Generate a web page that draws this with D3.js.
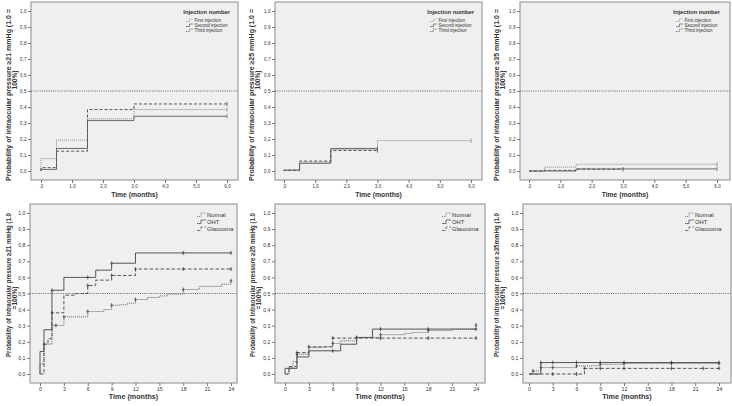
<!DOCTYPE html>
<html><head><meta charset="utf-8">
<script src="https://cdn.jsdelivr.net/npm/d3@7"></script>
<style>
body{margin:0;background:#fff}
svg{display:block}
text{font-family:"Liberation Sans",Arial,sans-serif;fill:#333}
</style>
</head><body><svg id="c" width="732" height="406"></svg>
<script>
// ---------- tick values / labels ----------
const yTickValues = [0,0.1,0.2,0.3,0.4,0.5,0.6,0.7,0.8,0.9,1.0];
const yTickLabels = ["0,0","0,1","0,2","0,3","0,4","0,5","0,6","0,7","0,8","0,9","1,0"];
const topXTickValues = [0,1,2,3,4,5,6];
const topXTickLabels = [",0","1,0","2,0","3,0","4,0","5,0","6,0"];
const botXTickValues = [0,3,6,9,12,15,18,21,24];
const botXTickLabels = ["0","3","6","9","12","15","18","21","24"];

// ---------- categories ----------
const injectionNames = ["First injection","Second injection","Third injection"];
const groupNames = ["Normal","OHT","Glaucoma"];

// ---------- top row: by injection number (months) ----------
const injTimes = [0, 0.5, 1.5, 3, 6];
const inj21First  = [0.077, 0.193, 0.326, 0.384, 0.384];
const inj21Second = [0.010, 0.141, 0.315, 0.342, 0.342];
const inj21Third  = [0.021, 0.124, 0.384, 0.419, 0.419];

const inj25FirstTimes = [0, 0.5, 1.5, 3, 6];
const inj25First  = [0.005, 0.055, 0.135, 0.19, 0.19];
const inj25OtherTimes = [0, 0.5, 1.5, 3];
const inj25Second = [0.005, 0.048, 0.141, 0.141];
const inj25Third  = [0.005, 0.062, 0.128, 0.128];

const inj35FirstTimes = [0, 0.5, 1.5, 6];
const inj35First  = [0, 0.024, 0.042, 0.042];
const inj35SecondTimes = [0, 1.5, 6];
const inj35Second = [0, 0.013, 0.013];
const inj35ThirdTimes = [0, 0.5, 1.5, 3];
const inj35Third  = [0, 0.004, 0.011, 0.011];

// ---------- bottom row: by group ----------
const normal21Times = [0, 0.5, 1.5, 3, 6, 8, 9, 10, 11, 12, 13.5, 15, 16, 18, 20, 22.8, 24];
const normal21 = [0.0625, 0.185, 0.302, 0.355, 0.388, 0.40, 0.427, 0.43, 0.44, 0.4625, 0.475, 0.485, 0.496, 0.525, 0.544, 0.558, 0.579];
const normal21Censor = [0.5, 2, 3, 6, 9, 12, 18, 24];
const oht21Times = [0, 0.5, 1.5, 3, 7, 9, 12, 24];
const oht21 = [0.14, 0.275, 0.52, 0.60, 0.645, 0.688, 0.752, 0.752];
const oht21Censor = [1.5, 6, 9, 18, 24];
const glaucoma21Times = [0, 0.5, 1, 1.5, 3, 4.5, 6, 7, 9, 12, 24];
const glaucoma21 = [0, 0.185, 0.219, 0.38, 0.49, 0.50, 0.55, 0.583, 0.612, 0.652, 0.652];
const glaucoma21Censor = [1.5, 6, 9, 12, 18, 24];

const normal25Times = [0, 0.5, 1, 1.5, 3, 5, 6, 7, 9, 12, 15, 16, 18, 21, 24];
const normal25 = [0, 0.04, 0.077, 0.123, 0.165, 0.17, 0.19, 0.206, 0.227, 0.244, 0.252, 0.258, 0.27, 0.279, 0.304];
const normal25Censor = [1.5, 6, 9, 12, 18, 24];
const oht25Times = [0, 1.5, 3, 7, 9, 11, 24];
const oht25 = [0.035, 0.106, 0.144, 0.185, 0.227, 0.279, 0.279];
const oht25Censor = [6, 12, 18, 24];
const glaucoma25Times = [0, 0.5, 1.5, 3, 6, 24];
const glaucoma25 = [0, 0.046, 0.133, 0.169, 0.223, 0.223];
const glaucoma25Censor = [1.5, 3, 6, 9, 12, 18, 24];

const normal35Times = [0, 0.5, 1.5, 6, 8, 9, 12, 24];
const normal35 = [0, 0.019, 0.04, 0.05, 0.052, 0.06, 0.065, 0.065];
const normal35Censor = [0.5, 1.5, 3, 6, 9, 12, 18, 24];
const oht35Times = [0, 1.5, 24];
const oht35 = [0, 0.071, 0.071];
const oht35Censor = [1.5, 3, 6, 9, 12, 18, 24];
const glaucoma35Times = [0, 7, 24];
const glaucoma35 = [0, 0.035, 0.035];
const glaucoma35Censor = [3, 6, 7, 9, 12, 18, 22, 24];

// ---------- styles ----------
const styleOf = {
  "First injection": {dash:"1,1", color:"#8a8a8a", w:1},
  "Second injection": {dash:null, color:"#6a6a6a", w:1},
  "Third injection": {dash:"3,2", color:"#555", w:1},
  "Normal": {dash:"1,1", color:"#666", w:1},
  "OHT": {dash:null, color:"#555", w:1},
  "Glaucoma": {dash:"3.5,2", color:"#555", w:1}
};

function S(name, times, values, censor){ return {name, times, values, censor: censor || [times[times.length-1]]}; }

const panels = [
  {row:"top", box:[31,2,238,180], xr:[41,227], yr:[171,11], xmax:6, tx:[9,15],
   title:["Probability of intraocular pressure \u226521 mmHg (1.0 =","100%)"],
   series:[S(injectionNames[0],injTimes,inj21First),S(injectionNames[1],injTimes,inj21Second),S(injectionNames[2],injTimes,inj21Third)]},
  {row:"top", box:[275,2,482,180], xr:[284,471], yr:[171,11], xmax:6, tx:[252,258],
   title:["Probability of intraocular pressure \u226525 mmHg (1.0 =","100%)"],
   series:[S(injectionNames[0],inj25FirstTimes,inj25First),S(injectionNames[1],inj25OtherTimes,inj25Second),S(injectionNames[2],inj25OtherTimes,inj25Third)]},
  {row:"top", box:[520,2,730,180], xr:[529,717], yr:[171,11], xmax:6, tx:[497,503],
   title:["Probability of intraocular pressure \u226535 mmHg (1.0 =","100%)"],
   series:[S(injectionNames[0],inj35FirstTimes,inj35First),S(injectionNames[1],inj35SecondTimes,inj35Second),S(injectionNames[2],inj35ThirdTimes,inj35Third)]},
  {row:"bot", box:[30,204,237,383], xr:[40,231], yr:[374,213], xmax:24, tx:[9,15],
   title:["Probability of intraocular pressure \u226521 mmHg (1.0","=100%)"],
   series:[S(groupNames[0],normal21Times,normal21,normal21Censor),S(groupNames[1],oht21Times,oht21,oht21Censor),S(groupNames[2],glaucoma21Times,glaucoma21,glaucoma21Censor)]},
  {row:"bot", box:[275,204,485,383], xr:[285,476], yr:[374,213], xmax:24, tx:[253,259],
   title:["Probability of intraocular pressure \u226525 mmHg (1.0","=100%)"],
   series:[S(groupNames[0],normal25Times,normal25,normal25Censor),S(groupNames[1],oht25Times,oht25,oht25Censor),S(groupNames[2],glaucoma25Times,glaucoma25,glaucoma25Censor)]},
  {row:"bot", box:[523,204,731,383], xr:[529,719], yr:[374,213], xmax:24, tx:[497,503],
   title:["Probability of intraocular pressure \u226535mmHg (1.0","=100%)"],
   series:[S(groupNames[0],normal35Times,normal35,normal35Censor),S(groupNames[1],oht35Times,oht35,oht35Censor),S(groupNames[2],glaucoma35Times,glaucoma35,glaucoma35Censor)]}
];

const svg = d3.select("#c");

panels.forEach(p => {
  const top = p.row === "top";
  const g = svg.append("g");
  const x = d3.scaleLinear().domain([0, p.xmax]).range(p.xr);
  const y = d3.scaleLinear().domain([0, 1]).range(p.yr);
  const [bx0, by0, bx1, by1] = p.box;

  g.append("rect").attr("x", bx0).attr("y", by0).attr("width", bx1 - bx0).attr("height", by1 - by0)
    .attr("fill", "#efefef").attr("stroke", "#8c8c8c").attr("stroke-width", 1);

  // axes
  const tickFs = top ? 4.6 : 5.2;
  const yAx = g.append("g").attr("transform", `translate(${bx0},0)`)
    .call(d3.axisLeft(y).tickValues(yTickValues).tickFormat((d, i) => yTickLabels[i]).tickSize(3).tickPadding(1.5));
  const xVals = top ? topXTickValues : botXTickValues;
  const xLabs = top ? topXTickLabels : botXTickLabels;
  const xAx = g.append("g").attr("transform", `translate(0,${by1})`)
    .call(d3.axisBottom(x).tickValues(xVals).tickFormat((d, i) => xLabs[i]).tickSize(3).tickPadding(1.5));
  [yAx, xAx].forEach(a => {
    a.select(".domain").remove();
    a.selectAll("line").attr("stroke", "#777");
    a.selectAll("text").style("font-size", tickFs + "px").attr("fill", "#444");
  });

  // reference line at 0.5
  g.append("line").attr("x1", bx0).attr("x2", bx1).attr("y1", y(0.5)).attr("y2", y(0.5))
    .attr("stroke", "#555").attr("stroke-dasharray", "1,1.2").attr("stroke-width", 0.9);

  // series
  const line = d3.line().x(d => x(d[0])).y(d => y(d[1])).curve(d3.curveStepAfter);
  p.series.forEach(s => {
    const st = styleOf[s.name];
    const pts = [[0, 0]].concat(s.times.map((t, i) => [t, s.values[i]]));
    g.append("path").attr("d", line(pts)).attr("fill", "none")
      .attr("stroke", st.color).attr("stroke-width", st.w)
      .attr("stroke-dasharray", st.dash);
    const valAt = t => { let v = 0; s.times.forEach((tt, i) => { if (tt <= t + 1e-9) v = s.values[i]; }); return v; };
    s.censor.forEach(t => {
      const cx = x(t), cy = y(valAt(t));
      const h = top ? 2.2 : 2;
      g.append("path").attr("d", `M${cx},${cy - h}V${cy + h}` + (top ? "" : `M${cx - 1.3},${cy}H${cx + 1.3}`))
        .attr("stroke", top ? st.color : "#444").attr("stroke-width", 0.8).attr("fill", "none");
    });
  });

  // legend
  if (top) {
    const lx = p.xr[1] + 3;
    g.append("text").attr("x", lx).attr("y", 14).attr("text-anchor", "end")
      .style("font-size", "5.8px").style("font-weight", "600").attr("fill", "#333").text("Injection number");
    p.series.forEach((s, i) => {
      const st = styleOf[s.name];
      const yy = 20.5 + i * 5;
      const sx = lx - 44;
      g.append("path").attr("d", `M${sx},${yy + 1}H${sx + 3.5}V${yy - 1.5}H${sx + 7}`)
        .attr("fill", "none").attr("stroke", st.color).attr("stroke-width", 0.8).attr("stroke-dasharray", st.dash ? "1,0.8" : null);
      g.append("text").attr("x", sx + 8.5).attr("y", yy + 1.5)
        .style("font-size", "4.5px").attr("fill", "#333").text(s.name);
    });
  } else {
    const tx0 = p.xr[1] - 24;
    p.series.forEach((s, i) => {
      const st = styleOf[s.name];
      const yy = 215 + i * 7;
      const sx = tx0 - 10;
      g.append("path").attr("d", `M${sx},${yy + 1.5}H${sx + 4}V${yy - 2}H${sx + 9}`)
        .attr("fill", "none").attr("stroke", st.color).attr("stroke-width", 0.8).attr("stroke-dasharray", st.dash);
      g.append("text").attr("x", tx0).attr("y", yy + 2)
        .style("font-size", "5.8px").attr("fill", "#333").text(s.name);
    });
  }

  // axis titles
  const cx = (bx0 + bx1) / 2;
  g.append("text").attr("x", cx).attr("y", top ? 196.5 : 399)
    .attr("text-anchor", "middle").style("font-size", top ? "6.8px" : "7.2px").style("font-weight", "bold")
    .attr("fill", "#222").text("Time (months)");
  const c1 = top ? 95 : 285, c2 = top ? 80 : 298;
  const len1 = top ? 172 : 144;
  g.append("text").attr("transform", `translate(${p.tx[0] + 2},${c1}) rotate(-90)`)
    .attr("text-anchor", "middle").style("font-size", "6.6px").style("font-weight", "bold")
    .attr("textLength", len1).attr("lengthAdjust", "spacingAndGlyphs")
    .attr("fill", "#222").text(p.title[0]);
  g.append("text").attr("transform", `translate(${p.tx[1] + 2},${c2}) rotate(-90)`)
    .attr("text-anchor", "middle").style("font-size", "6.6px").style("font-weight", "bold")
    .attr("fill", "#222").text(p.title[1]);
});
</script></body></html>
